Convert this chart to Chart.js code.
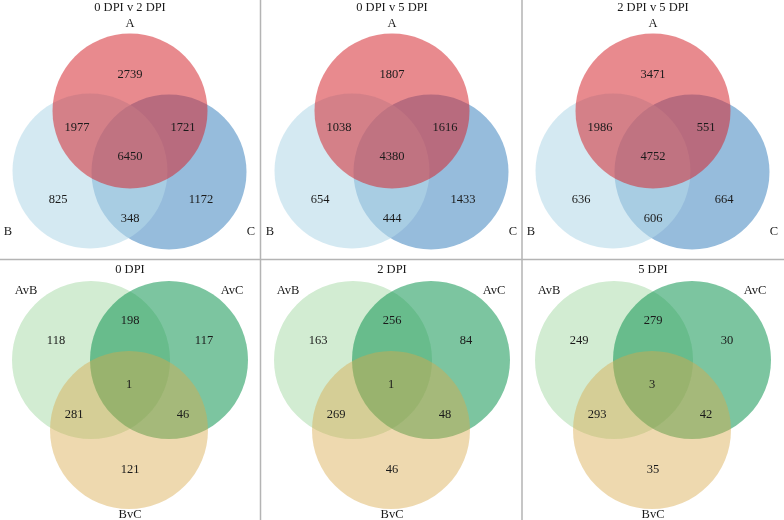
<!DOCTYPE html>
<html>
<head>
<meta charset="utf-8">
<script src="https://cdn.jsdelivr.net/npm/chart.js@4/dist/chart.umd.min.js"></script>
<style>
html,body{margin:0;padding:0;background:#fff;}
#c{display:block;}
</style>
</head>
<body>
<canvas id="c" width="784" height="520"></canvas>
<script>
// ---- DATA ----
const topTitles = ["0 DPI v 2 DPI", "0 DPI v 5 DPI", "2 DPI v 5 DPI"];
const topSetLabels = ["A", "B", "C"];
const onlyA  = [2739, 1807, 3471];
const aAndB  = [1977, 1038, 1986];
const aAndC  = [1721, 1616, 551];
const aBC    = [6450, 4380, 4752];
const onlyB  = [825, 654, 636];
const onlyC  = [1172, 1433, 664];
const bAndC  = [348, 444, 606];

const bottomTitles = ["0 DPI", "2 DPI", "5 DPI"];
const bottomSetLabels = ["AvB", "AvC", "BvC"];
const onlyAvB    = [118, 163, 249];
const avbAvc     = [198, 256, 279];
const onlyAvC    = [117, 84, 30];
const allThree   = [1, 1, 3];
const avbBvc     = [281, 269, 293];
const avcBvc     = [46, 48, 42];
const onlyBvC    = [121, 46, 35];

// ---- LAYOUT (panel-relative, separate from data) ----
const colOffsets = [0, 262, 523];
const rowOffsets = [0, 258];
const topCircles = { A: [130, 111], B: [90, 171], C: [169, 172] };
const topR = 77.5;
const botCircles = { AvB: [91, 102], AvC: [169, 102], BvC: [129, 172] };
const botR = 79;

const topText = {
  title: [130, 8], A: [130, 24], B: [8, 232], C: [251, 232],
  onlyA: [130, 75], aAndB: [77, 128], aAndC: [183, 128], aBC: [130, 157],
  onlyB: [58, 200], onlyC: [201, 200], bAndC: [130, 219]
};
const botText = {
  title: [130, 12], AvB: [26, 33], AvC: [232, 33], BvC: [130, 257],
  onlyAvB: [56, 83], avbAvc: [130, 63], onlyAvC: [204, 83], allThree: [129, 127],
  avbBvc: [74, 157], avcBvc: [183, 157], onlyBvC: [130, 212]
};

function circlePoints(pos, row, R) {
  // x/y scales are 1 unit = 1 px, so the radius in scale units equals pixels
  return colOffsets.map(ox => ({ x: ox + pos[0], y: rowOffsets[row] + pos[1], r: R }));
}
function ds(label, pos, row, color, order, R) {
  return {
    label, data: circlePoints(pos, row, R), backgroundColor: color, borderWidth: 0,
    borderColor: 'rgba(0,0,0,0)', order, clip: false
  };
}

const datasets = [
  ds("C", topCircles.C, 0, "rgb(150,188,220)", 6, topR),
  ds("B", topCircles.B, 0, "rgba(181,217,233,0.58)", 5, topR),
  ds("A", topCircles.A, 0, "rgba(212,38,47,0.54)", 4, topR),
  ds("AvB", botCircles.AvB, 1, "rgb(210,236,210)", 3, botR),
  ds("AvC", botCircles.AvC, 1, "rgba(17,150,82,0.55)", 2, botR),
  ds("BvC", botCircles.BvC, 1, "rgba(217,169,72,0.44)", 1, botR)
];

const textPlugin = {
  id: 'vennText',
  beforeDatasetsDraw(chart) {
    const c = chart.ctx, xs = chart.scales.x, ys = chart.scales.y;
    c.save();
    c.strokeStyle = "#b4b4b4";
    c.lineWidth = 1.5;
    c.beginPath();
    [260.5, 522].forEach(vx => {
      c.moveTo(xs.getPixelForValue(vx), ys.getPixelForValue(0));
      c.lineTo(xs.getPixelForValue(vx), ys.getPixelForValue(520));
    });
    c.moveTo(xs.getPixelForValue(0), ys.getPixelForValue(259.5));
    c.lineTo(xs.getPixelForValue(784), ys.getPixelForValue(259.5));
    c.stroke();
    c.restore();
  },
  afterDatasetsDraw(chart) {
    const c = chart.ctx, xs = chart.scales.x, ys = chart.scales.y;
    c.save();
    c.fillStyle = "#1a1a1a";
    c.font = "12.5px 'Liberation Serif', 'DejaVu Serif', serif";
    c.textAlign = "center";
    c.textBaseline = "middle";
    const put = (txt, pos, col, row) => {
      c.fillText(String(txt), xs.getPixelForValue(colOffsets[col] + pos[0]), ys.getPixelForValue(rowOffsets[row] + pos[1]));
    };
    for (let i = 0; i < 3; i++) {
      put(topTitles[i], topText.title, i, 0);
      put(topSetLabels[0], topText.A, i, 0);
      put(topSetLabels[1], topText.B, i, 0);
      put(topSetLabels[2], topText.C, i, 0);
      put(onlyA[i], topText.onlyA, i, 0);
      put(aAndB[i], topText.aAndB, i, 0);
      put(aAndC[i], topText.aAndC, i, 0);
      put(aBC[i], topText.aBC, i, 0);
      put(onlyB[i], topText.onlyB, i, 0);
      put(onlyC[i], topText.onlyC, i, 0);
      put(bAndC[i], topText.bAndC, i, 0);

      put(bottomTitles[i], botText.title, i, 1);
      put(bottomSetLabels[0], botText.AvB, i, 1);
      put(bottomSetLabels[1], botText.AvC, i, 1);
      put(bottomSetLabels[2], botText.BvC, i, 1);
      put(onlyAvB[i], botText.onlyAvB, i, 1);
      put(avbAvc[i], botText.avbAvc, i, 1);
      put(onlyAvC[i], botText.onlyAvC, i, 1);
      put(allThree[i], botText.allThree, i, 1);
      put(avbBvc[i], botText.avbBvc, i, 1);
      put(avcBvc[i], botText.avcBvc, i, 1);
      put(onlyBvC[i], botText.onlyBvC, i, 1);
    }
    c.restore();
  }
};

new Chart(document.getElementById('c'), {
  type: 'bubble',
  data: { datasets },
  options: {
    responsive: false,
    devicePixelRatio: 1,
    animation: false,
    events: [],
    layout: { padding: 0, autoPadding: false },
    plugins: { legend: { display: false }, tooltip: { enabled: false }, title: { display: false } },
    scales: {
      x: { type: 'linear', min: 0, max: 784, display: false },
      y: { type: 'linear', min: 0, max: 520, reverse: true, display: false }
    }
  },
  plugins: [textPlugin]
});
</script>
</body>
</html>
